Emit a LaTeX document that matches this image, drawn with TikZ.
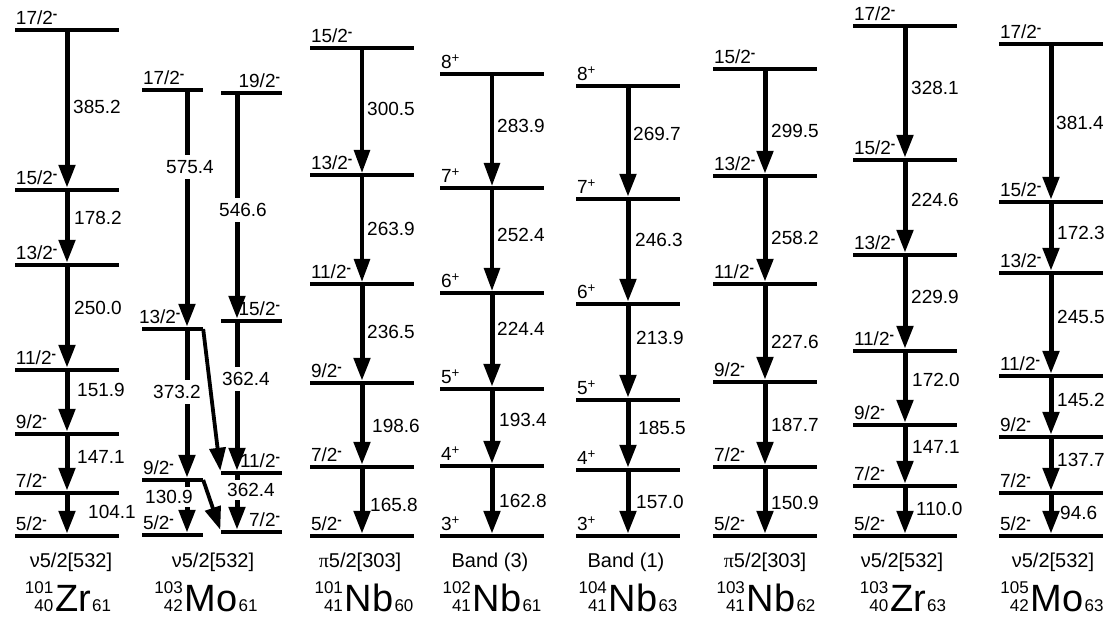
\documentclass[tikz,border=0pt]{standalone}
\usepackage{fontspec}
\setmainfont{Liberation Sans}
\newfontfamily\grk{Liberation Serif}
\usetikzlibrary{arrows.meta}
\newcommand{\mi}{\textsuperscript{\bfseries -}}
\newcommand{\pl}{\textsuperscript{+}}
\newcommand{\iso}[4]{{\fontsize{17}{18}\selectfont\begin{tabular}[b]{@{}r@{}}#1\\#2\end{tabular}}\kern2pt{\fontsize{38}{38}\selectfont #3}\kern1pt{\fontsize{17}{17}\selectfont #4}}

\begin{document}
\begin{tikzpicture}[x=1pt, y=-1pt,
    lvl/.style={fill=black, inner sep=0pt, minimum height=4pt, minimum width=104pt},
    mlvl/.style={lvl, minimum width=61pt},
    spin/.style={font=\fontsize{19}{19}\selectfont, inner sep=1pt, yshift=2pt},
    sl/.style={label={[spin,anchor=south west]north west:#1}},
    sr/.style={label={[spin,anchor=south east]north east:#1}},
    gam/.style={font=\fontsize{19}{19}\selectfont, inner sep=0pt, anchor=west},
    gbox/.style={font=\fontsize{19}{19}\selectfont, fill=white, inner xsep=2pt, inner ysep=5pt},
    gtr/.style={line width=5pt, -{Triangle[length=23pt,width=16pt]}},
    gthin/.style={gtr, line width=3.2pt},
    cfg/.style={font=\fontsize{20}{20}\selectfont, inner sep=0pt, anchor=base},
    nuc/.style={inner sep=0pt, anchor=base}
]
\useasboundingbox (0,0) rectangle (1112,620);

% 101Zr
\node[lvl, sl=17/2\mi] (a17) at (67,30) {};
\node[lvl, sl=15/2\mi] (a15) at (67,190) {};
\node[lvl, sl=13/2\mi] (a13) at (67,265) {};
\node[lvl, sl=11/2\mi] (a11) at (67,370) {};
\node[lvl, sl=9/2\mi] (a9) at (67,434) {};
\node[lvl, sl=7/2\mi] (a7) at (67,493) {};
\node[lvl, sl=5/2\mi] (a5) at (67,536) {};
\draw[gtr] (a17) -- (a15);
\draw[gtr] (a15) -- (a13);
\draw[gtr] (a13) -- (a11);
\draw[gtr] (a11) -- (a9);
\draw[gtr] (a9) -- (a7);
\draw[gtr] (a7) -- (a5);
\node[gam] (ga1) at (73,107) {385.2};
\node[gam] (ga2) at (74,218) {178.2};
\node[gam] (ga3) at (74,308) {250.0};
\node[gam] (ga4) at (77,390) {151.9};
\node[gam] (ga5) at (77,457) {147.1};
\node[gam] (ga6) at (88,512) {104.1};
\node[cfg] (ca) at (71,567) {ν5/2[532]};
\node[nuc] (na) at (68,611) {\iso{101}{40}{Zr}{61}};

% 103Mo
\coordinate (mL) at (187,0);
\coordinate (mR) at (237,0);
\node[mlvl, sl=17/2\mi] (m17) at (172.5,90) {};
\node[mlvl, sr=19/2\mi] (m19) at (251,93) {};
\node[mlvl, label={[spin,anchor=south west,xshift=-4pt]north west:13/2\mi}] (m13) at (172.5,329) {};
\node[mlvl, sr=15/2\mi] (m15) at (251,321) {};
\node[mlvl, sr=11/2\mi] (m11) at (251,473) {};
\node[mlvl, sl=9/2\mi] (m9) at (172.5,480) {};
\node[mlvl, sl=5/2\mi] (m5) at (172.5,535) {};
\node[mlvl, sr=7/2\mi] (m7) at (251,532) {};
\draw[gtr] (m17.south -| mL) -- (m13.north -| mL);
\draw[gtr] (m19.south -| mR) -- (m15.north -| mR);
\draw[gtr] (m13.south -| mL) -- (m9.north -| mL);
\draw[gtr] (m15.south -| mR) -- (m11.north -| mR);
\draw[gtr] (m11.south -| mR) -- (m7.north -| mR);
\draw[gtr] (m9.south -| mL) -- (m5.north -| mL);
\draw[gtr, line width=3.8pt] (m13.east) -- (m11.north west);
\draw[gtr, line width=3.8pt] (m9.east) -- (m7.north west);
\node[gbox] (gm1) at (190,167) {575.4};
\node[gbox] (gm2) at (243,210) {546.6};
\node[gbox] (gm3) at (177,392) {373.2};
\node[gbox] (gm4) at (246,379) {362.4};
\node[gbox, inner ysep=3pt] (gm5) at (251,490) {362.4};
\node[gbox, inner ysep=3pt] (gm6) at (169,497) {130.9};
\node[cfg] (cm) at (213,567) {ν5/2[532]};
\node[nuc] (nm) at (206,611) {\iso{103}{42}{Mo}{61}};

% 101Nb
\node[lvl, sl=15/2\mi] (b15) at (362,48) {};
\node[lvl, sl=13/2\mi] (b13) at (362,175) {};
\node[lvl, sl=11/2\mi] (b11) at (362,284) {};
\node[lvl, sl=9/2\mi] (b9) at (362,383) {};
\node[lvl, sl=7/2\mi] (b7) at (362,467) {};
\node[lvl, sl=5/2\mi] (b5) at (362,536) {};
\draw[gthin] (b15) -- (b13);
\draw[gthin] (b13) -- (b11);
\draw[gtr] (b11) -- (b9);
\draw[gtr] (b9) -- (b7);
\draw[gtr] (b7) -- (b5);
\node[gam] (gb1) at (367,109) {300.5};
\node[gam] (gb2) at (367,229) {263.9};
\node[gam] (gb3) at (367,332) {236.5};
\node[gam] (gb4) at (372,426) {198.6};
\node[gam] (gb5) at (370,505) {165.8};
\node[cfg] (cb) at (360,567) {{\grk π}5/2[303]};
\node[nuc] (nb) at (364,611) {\iso{101}{41}{Nb}{60}};

% 102Nb
\node[lvl, sl=8\pl] (c8) at (492,74) {};
\node[lvl, sl=7\pl] (c7) at (492,188) {};
\node[lvl, sl=6\pl] (c6) at (492,293) {};
\node[lvl, sl=5\pl] (c5) at (492,389) {};
\node[lvl, sl=4\pl] (c4) at (492,466) {};
\node[lvl, sl=3\pl] (c3) at (492,536) {};
\draw[gthin] (c8) -- (c7);
\draw[gthin] (c7) -- (c6);
\draw[gtr] (c6) -- (c5);
\draw[gtr] (c5) -- (c4);
\draw[gtr] (c4) -- (c3);
\node[gam] (gc1) at (497,126) {283.9};
\node[gam] (gc2) at (497,235) {252.4};
\node[gam] (gc3) at (497,329) {224.4};
\node[gam] (gc4) at (499,420) {193.4};
\node[gam] (gc5) at (499,501) {162.8};
\node[cfg] (cc) at (490,567) {Band (3)};
\node[nuc] (nc) at (492,611) {\iso{102}{41}{Nb}{61}};

% 104Nb
\node[lvl, sl=8\pl] (d8) at (628,86) {};
\node[lvl, sl=7\pl] (d7) at (628,199) {};
\node[lvl, sl=6\pl] (d6) at (628,304) {};
\node[lvl, sl=5\pl] (d5) at (628,400) {};
\node[lvl, sl=4\pl] (d4) at (628,470) {};
\node[lvl, sl=3\pl] (d3) at (628,536) {};
\draw[gtr] (d8) -- (d7);
\draw[gtr] (d7) -- (d6);
\draw[gtr] (d6) -- (d5);
\draw[gtr] (d5) -- (d4);
\draw[gtr] (d4) -- (d3);
\node[gam] (gd1) at (633,134) {269.7};
\node[gam] (gd2) at (635,240) {246.3};
\node[gam] (gd3) at (636,338) {213.9};
\node[gam] (gd4) at (638,428) {185.5};
\node[gam] (gd5) at (636,502) {157.0};
\node[cfg] (cd) at (626,567) {Band (1)};
\node[nuc] (nd) at (628,611) {\iso{104}{41}{Nb}{63}};

% 103Nb
\node[lvl, sl=15/2\mi] (e15) at (765,69) {};
\node[lvl, sl=13/2\mi] (e13) at (765,176) {};
\node[lvl, sl=11/2\mi] (e11) at (765,284) {};
\node[lvl, sl=9/2\mi] (e9) at (765,382) {};
\node[lvl, sl=7/2\mi] (e7) at (765,467) {};
\node[lvl, sl=5/2\mi] (e5) at (765,536) {};
\draw[gtr] (e15) -- (e13);
\draw[gtr] (e13) -- (e11);
\draw[gtr] (e11) -- (e9);
\draw[gtr] (e9) -- (e7);
\draw[gtr] (e7) -- (e5);
\node[gam] (ge1) at (771,131) {299.5};
\node[gam] (ge2) at (771,238) {258.2};
\node[gam] (ge3) at (771,342) {227.6};
\node[gam] (ge4) at (771,425) {187.7};
\node[gam] (ge5) at (771,503) {150.9};
\node[cfg] (ce) at (765,567) {{\grk π}5/2[303]};
\node[nuc] (ne) at (766,611) {\iso{103}{41}{Nb}{62}};

% 103Zr
\node[lvl, sl=17/2\mi] (f17) at (905,26) {};
\node[lvl, sl=15/2\mi] (f15) at (905,160) {};
\node[lvl, sl=13/2\mi] (f13) at (905,255) {};
\node[lvl, sl=11/2\mi] (f11) at (905,351) {};
\node[lvl, sl=9/2\mi] (f9) at (905,425) {};
\node[lvl, sl=7/2\mi] (f7) at (905,486) {};
\node[lvl, sl=5/2\mi] (f5) at (905,536) {};
\draw[gtr] (f17) -- (f15);
\draw[gtr] (f15) -- (f13);
\draw[gtr] (f13) -- (f11);
\draw[gtr] (f11) -- (f9);
\draw[gtr] (f9) -- (f7);
\draw[gtr] (f7) -- (f5);
\node[gam] (gf1) at (911,88) {328.1};
\node[gam] (gf2) at (911,200) {224.6};
\node[gam] (gf3) at (911,297) {229.9};
\node[gam] (gf4) at (912,380) {172.0};
\node[gam] (gf5) at (912,447) {147.1};
\node[gam] (gf6) at (916,509) {110.0};
\node[cfg] (cf) at (902,567) {ν5/2[532]};
\node[nuc] (nf) at (903,611) {\iso{103}{40}{Zr}{63}};

% 105Mo
\node[lvl, sl=17/2\mi] (g17) at (1051,44) {};
\node[lvl, sl=15/2\mi] (g15) at (1051,202) {};
\node[lvl, sl=13/2\mi] (g13) at (1051,273) {};
\node[lvl, sl=11/2\mi] (g11) at (1051,376) {};
\node[lvl, sl=9/2\mi] (g9) at (1051,437) {};
\node[lvl, sl=7/2\mi] (g7) at (1051,493) {};
\node[lvl, sl=5/2\mi] (g5) at (1051,536) {};
\draw[gtr] (g17) -- (g15);
\draw[gtr] (g15) -- (g13);
\draw[gtr] (g13) -- (g11);
\draw[gtr] (g11) -- (g9);
\draw[gtr] (g9) -- (g7);
\draw[gtr] (g7) -- (g5);
\node[gam] (gg1) at (1056,123) {381.4};
\node[gam] (gg2) at (1057,233) {172.3};
\node[gam] (gg3) at (1057,317) {245.5};
\node[gam] (gg4) at (1057,400) {145.2};
\node[gam] (gg5) at (1057,460) {137.7};
\node[gam] (gg6) at (1060,513) {94.6};
\node[cfg] (cg) at (1053,567) {ν5/2[532]};
\node[nuc] (ng) at (1052,611) {\iso{105}{42}{Mo}{63}};
\end{tikzpicture}
\end{document}
